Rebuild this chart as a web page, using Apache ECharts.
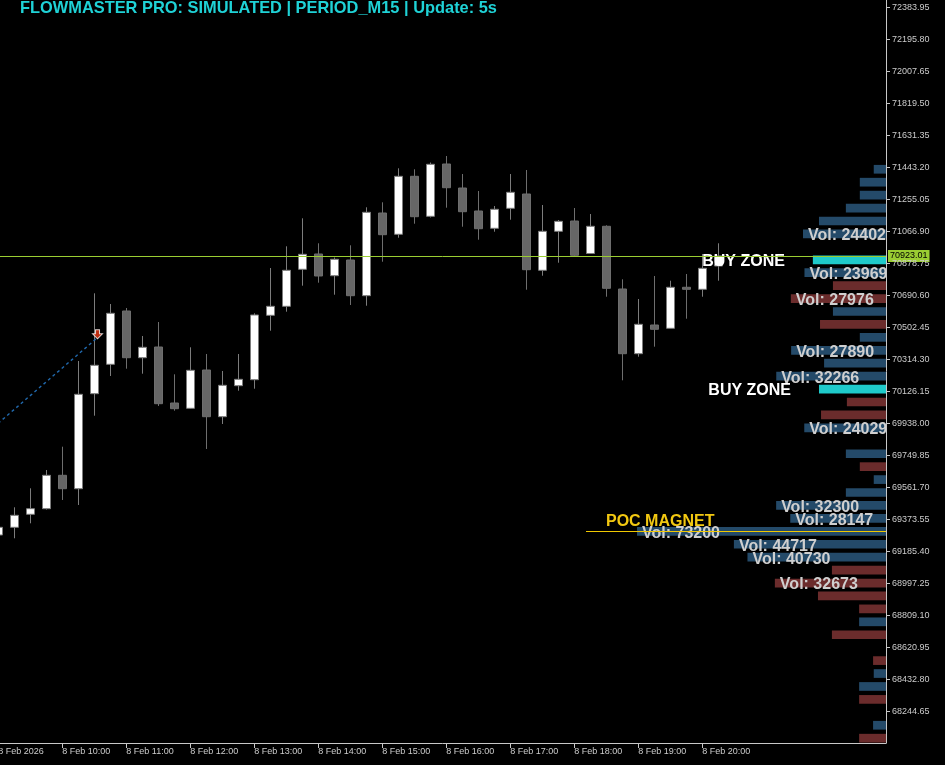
<!DOCTYPE html>
<html>
<head>
<meta charset="utf-8">
<title>FlowMaster Pro</title>
<script src="https://cdn.jsdelivr.net/npm/echarts@6/dist/echarts.min.js"></script>
<style>
  html, body { margin: 0; padding: 0; background: #000; }
  #chart { width: 945px; height: 765px; }
</style>
</head>
<body>
<div id="chart"></div>
<script>
// M15 candles, 8 Feb 09:00 .. 20:15
var candleOpen = [69282.9, 69328.1, 69404.5, 69437.5, 69633.7, 69554.9, 70113.3, 70286.0, 70599.3, 70324.8,
  70387.7, 70058.6, 70027.4, 70252.5, 69978.1, 70160.3, 70195.6, 70574.0, 70626.9, 70844.4,
  70934.3, 70806.7, 70899.0, 70689.2, 71175.2, 71050.1, 71390.9, 71155.8, 71463.2, 71322.1,
  71187.0, 71085.3, 71202.8, 71286.9, 70838.5, 71067.7, 71128.2, 70937.2, 71097.1, 70728.6,
  70348.4, 70517.0, 70497.6, 70738.6, 70726.8, 70863.7];
var candleClose = [69328.1, 69398.6, 69437.5, 69633.7, 69554.9, 70109.7, 70280.2, 70585.8, 70324.8, 70385.9,
  70054.5, 70025.1, 70250.8, 69978.1, 70162.6, 70197.9, 70575.8, 70626.9, 70838.5, 70932.5,
  70805.0, 70903.1, 70689.2, 71179.3, 71047.7, 71390.9, 71153.5, 71461.4, 71323.9, 71182.9,
  71082.9, 71197.0, 71296.9, 70842.0, 71067.7, 71126.4, 70926.6, 71097.1, 70732.7, 70348.4,
  70521.1, 70491.7, 70738.6, 70726.8, 70850.2, 70923.01];
var candleLow = [69259.4, 69263.5, 69351.6, 69432.7, 69488.6, 69459.2, 69984.0, 70217.3, 70260.2, 70230.8,
  70041.0, 70013.4, 70023.3, 69788.3, 69935.2, 70130.9, 70142.6, 70483.5, 70595.2, 70748.0,
  70765.6, 70695.1, 70634.5, 70630.4, 70889.0, 71030.0, 71112.3, 71148.8, 71206.4, 71094.7,
  71018.3, 71065.3, 71135.8, 70724.4, 70806.7, 70883.1, 70918.4, 70934.3, 70683.3, 70192.0,
  70330.7, 70389.5, 70496.5, 70554.0, 70683.3, 70777.4];
var candleHigh = [69347.5, 69445.6, 69557.3, 69664.9, 69801.8, 70305.4, 70703.3, 70640.4, 70616.9, 70452.4,
  70534.6, 70227.3, 70385.9, 70346.6, 70246.7, 70346.6, 70585.8, 70852.0, 70979.5, 71144.1,
  70997.1, 70913.7, 70985.4, 71208.7, 71238.1, 71437.9, 71432.0, 71472.0, 71510.2, 71404.4,
  71304.5, 71216.4, 71404.4, 71427.9, 71222.2, 71134.1, 71204.6, 71169.3, 71102.9, 70785.6,
  70669.8, 70805.0, 70777.4, 70816.7, 70934.3, 70997.1];

// hour labels, one every 4 bars
var timeLabels = ['8 Feb 2026', '8 Feb 10:00', '8 Feb 11:00', '8 Feb 12:00', '8 Feb 13:00', '8 Feb 14:00',
  '8 Feb 15:00', '8 Feb 16:00', '8 Feb 17:00', '8 Feb 18:00', '8 Feb 19:00', '8 Feb 20:00'];
var priceTicks = [68244.65, 68432.80, 68620.95, 68809.10, 68997.25, 69185.40, 69373.55, 69561.70,
  69749.85, 69938.00, 70126.15, 70314.30, 70502.45, 70690.60, 70878.75, 71066.90, 71255.05,
  71443.20, 71631.35, 71819.50, 72007.65, 72195.80, 72383.95];
var lastPrice = 70923.01;

// volume profile rows (top to bottom)
var profileLevels = [71432, 71356, 71280, 71204, 71128, 71052, 70976, 70900, 70824, 70748,
  70672, 70596, 70520, 70444, 70368, 70292, 70216, 70140, 70064, 69988,
  69912, 69836, 69760, 69684, 69608, 69532, 69456, 69380, 69304, 69228,
  69152, 69076, 69000, 68924, 68848, 68772, 68696, 68620, 68544, 68468,
  68392, 68316, 68240, 68164, 68088];
var profileVol = [3600, 7700, 7700, 11800, 19700, 24402, 0, 21500, 23969, 15600,
  27976, 15600, 19400, 7700, 27890, 18200, 32266, 19700, 11500, 19100,
  24029, 0, 11800, 7700, 3600, 11800, 32300, 28147, 73200, 44717,
  40730, 15900, 32673, 20000, 7900, 7900, 15900, 0, 3800, 3600,
  7900, 7900, 0, 3800, 7900];
// b = buy volume, r = sell volume, c = buy zone
var profileSide = ['b', 'b', 'b', 'b', 'b', 'b', 'b', 'c', 'b', 'r',
  'r', 'b', 'r', 'b', 'b', 'b', 'b', 'c', 'r', 'r',
  'b', 'b', 'b', 'r', 'b', 'b', 'b', 'b', 'b', 'b',
  'b', 'r', 'r', 'r', 'r', 'b', 'r', 'r', 'r', 'b',
  'b', 'r', 'b', 'b', 'r'];

// trend line (bar index, price) and signal arrow
var trendX = [-2, 6.15];
var trendY = [69778.1, 70438.8];
var signalPoint = [6.2, 70462.4];

var sideColor = { b: '#244a69', r: '#6b2c2c', c: '#1fcaca' };

var chart = echarts.init(document.getElementById('chart'));

var candleData = candleOpen.map(function (o, i) {
  return [i, o, candleClose[i], candleLow[i], candleHigh[i]];
});
var tickIdx = timeLabels.map(function (t, k) { return k * 4; });
var pocIndex = profileVol.indexOf(Math.max.apply(null, profileVol));

var profileItems = profileVol.map(function (v, i) {
  var side = profileSide[i];
  var item = { value: v, itemStyle: { color: sideColor[side] } };
  if (side === 'c') {
    item.label = {
      show: true, position: 'left', distance: 28, formatter: 'BUY ZONE',
      color: '#ffffff', fontSize: 16, fontWeight: 'bold', offset: [0, 1.5]
    };
  } else if (v >= 23000) {
    item.label = {
      show: true, position: 'insideLeft', distance: 5, formatter: 'Vol: ' + v,
      color: '#cfcfcf', fontSize: 16, fontWeight: 'bold', offset: [0, 2],
      textShadowColor: '#1a1a1a', textShadowOffsetX: 2, textShadowOffsetY: 2, textShadowBlur: 0
    };
  }
  return item;
});

var option = {
  backgroundColor: '#000000',
  animation: false,
  textStyle: { fontFamily: 'Liberation Sans' },
  title: {
    text: 'FLOWMASTER PRO: SIMULATED | PERIOD_M15 | Update: 5s',
    left: 20, top: 0.5, padding: 0,
    textStyle: { color: '#1fd2d6', fontSize: 16.4, fontWeight: 'bold', fontFamily: 'Liberation Sans' }
  },
  grid: [
    { left: -1.7, right: 59, top: 0, bottom: 22, outerBoundsMode: 'none' },
    { left: 586, right: 59, top: 162.8, height: 581.85, outerBoundsMode: 'none' }
  ],
  xAxis: [
    {
      type: 'value', gridIndex: 0, min: 0, max: 55.48, z: 6,
      splitLine: { show: false },
      axisLine: { show: true, onZero: false, lineStyle: { color: '#c8c8c8', width: 1 } },
      axisTick: { show: true, customValues: tickIdx, length: 5, lineStyle: { color: '#c8c8c8' } },
      axisLabel: {
        customValues: tickIdx, align: 'left', margin: 3, fontSize: 9, lineHeight: 11,
        color: '#cccccc', fontFamily: 'Liberation Sans',
        formatter: function (v) { return timeLabels[Math.round(v / 4)]; }
      }
    },
    { type: 'value', gridIndex: 1, min: 0, max: 88200, inverse: true, show: false }
  ],
  yAxis: [
    {
      type: 'value', gridIndex: 0, position: 'right', min: 68060.45, max: 72427.03, z: 6,
      splitLine: { show: false },
      axisLine: { show: true, onZero: false, lineStyle: { color: '#c8c8c8', width: 1 } },
      axisTick: { show: true, customValues: priceTicks, length: 4, lineStyle: { color: '#c8c8c8' } },
      axisLabel: {
        customValues: priceTicks, margin: 6, fontSize: 9, color: '#cccccc', fontFamily: 'Liberation Sans',
        formatter: function (v) { return v.toFixed(2); }
      }
    },
    { type: 'category', gridIndex: 1, inverse: true, data: profileLevels, show: false }
  ],
  graphic: [
    // price scale area hides labels running past the chart edge
    { type: 'rect', shape: { x: 886.5, y: 0, width: 60, height: 743 }, style: { fill: '#000000' }, z: 4, silent: true }
  ],
  series: [
    {
      name: 'M15', type: 'candlestick', xAxisIndex: 0, yAxisIndex: 0, z: 2,
      data: candleData, encode: { x: 0, y: [1, 2, 3, 4] },
      barWidth: 9,
      itemStyle: { color: '#ffffff', color0: '#666666', borderColor: '#7c7c7c', borderColor0: '#6e6e6e', borderWidth: 1 }
    },
    {
      name: 'Profile', type: 'bar', xAxisIndex: 1, yAxisIndex: 1, z: 3,
      barWidth: 8.7, data: profileItems, silent: true,
      markLine: {
        silent: true, symbol: ['none', 'none'],
        data: [{ yAxis: pocIndex }],
        lineStyle: { color: '#f0c800', width: 1.2, type: 'solid' },
        label: {
          show: true, position: 'insideEndTop', distance: [20, 2], formatter: 'POC MAGNET',
          color: '#f2c811', fontSize: 16, fontWeight: 'bold', fontFamily: 'Liberation Sans'
        }
      }
    },
    {
      name: 'Trend', type: 'line', xAxisIndex: 0, yAxisIndex: 0, z: 5,
      data: trendX.map(function (x, i) { return [x, trendY[i]]; }),
      symbol: 'none', silent: true,
      lineStyle: { color: '#2169ad', width: 1.4, type: [3, 3] },
      markLine: {
        silent: true, symbol: ['none', 'none'],
        data: [{ yAxis: lastPrice }],
        lineStyle: { color: '#9acd32', width: 1, type: 'solid' },
        label: {
          show: true, position: 'end', distance: 2,
          formatter: lastPrice.toFixed(2),
          backgroundColor: '#9acd32', color: '#000000', fontSize: 9, padding: [2, 2, 1, 2],
          fontFamily: 'Liberation Sans'
        }
      }
    },
    {
      name: 'Signal', type: 'scatter', xAxisIndex: 0, yAxisIndex: 0, z: 5,
      data: [signalPoint], silent: true,
      symbol: 'path://M3,0 L7,0 L7,4 L10,4 L5,9 L0,4 L3,4 Z',
      symbolSize: [10, 9],
      itemStyle: { color: '#ec3a16', borderColor: '#ffffff', borderWidth: 1 }
    }
  ]
};

chart.setOption(option);
</script>
</body>
</html>
